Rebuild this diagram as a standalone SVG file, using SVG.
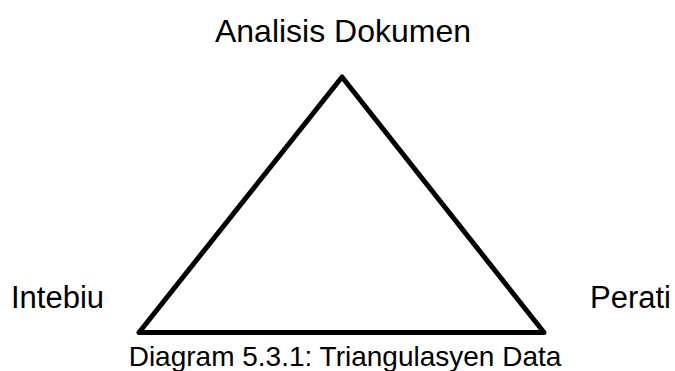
<svg xmlns="http://www.w3.org/2000/svg" width="675" height="371" viewBox="0 0 675 371">
<style>
text { font-family: "Liberation Sans", Arial, sans-serif; fill: #000; }
.lbl { font-size: 31px; }
.cap { font-size: 28px; }
.tri { fill: none; stroke: #000; stroke-width: 5; stroke-linejoin: round; }
</style>
<rect width="675" height="371" fill="#fff"/>
<g id="connectors">
<polygon class="tri" points="342,77 139,332.5 544,332.5"/>
</g>
<g id="node-analisis"><text class="lbl" x="343" y="42" text-anchor="middle" style="font-size:32px">Analisis Dokumen</text></g>
<g id="node-intebiu"><text class="lbl" x="11" y="308">Intebiu</text></g>
<g id="node-perati"><text class="lbl" x="590" y="308">Perati</text></g>
<g id="caption"><text class="cap" x="345" y="366" text-anchor="middle">Diagram 5.3.1: Triangulasyen Data</text></g>
</svg>
